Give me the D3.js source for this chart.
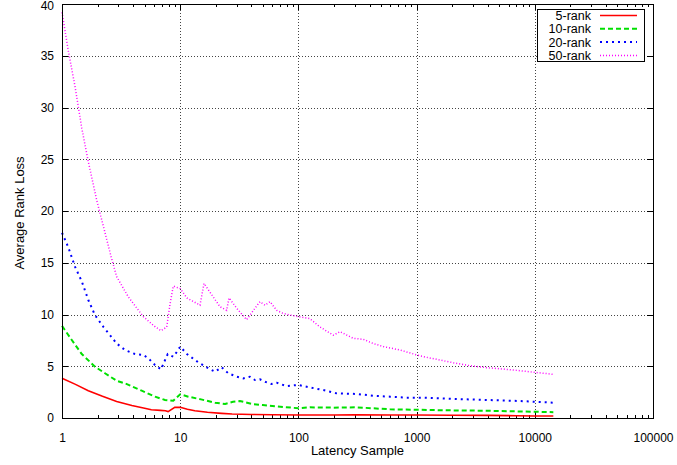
<!DOCTYPE html>
<html>
<head>
<meta charset="utf-8">
<script src="https://cdn.jsdelivr.net/npm/d3@7"></script>
<style>
  html, body { margin: 0; padding: 0; background: #fff; }
  svg { display: block; font-family: "Liberation Sans", Arial, Helvetica, sans-serif; }
</style>
</head>
<body>
<svg id="chart" width="677" height="465"></svg>
<script>
// ---- data ----
const seriesNames = ["5-rank", "10-rank", "20-rank", "50-rank"];

const x5 = [1, 1.3, 1.67, 2.2, 2.9, 3.9, 5, 5.7, 6.8, 7.5, 7.9, 9.0, 10, 11.5, 13.3, 17, 22.4, 27.5, 40, 60, 100, 200, 300, 600, 1000, 2000, 4000, 7000, 10000, 14350];
const y5 = [3.85, 3.25, 2.64, 2.1, 1.6, 1.2, 0.95, 0.8, 0.74, 0.7, 0.62, 1.03, 1.03, 0.85, 0.7, 0.55, 0.45, 0.39, 0.34, 0.31, 0.29, 0.29, 0.3, 0.29, 0.29, 0.27, 0.25, 0.22, 0.2, 0.19];

const x10 = [1, 1.21, 1.47, 1.9, 2.31, 2.9, 3.5, 4.72, 6.12, 7.43, 8.74, 10, 11.7, 15, 19.7, 24, 28, 32, 41, 50, 60, 100, 125, 197, 311, 596, 1000, 1578, 3917, 10040, 14350];
const y10 = [8.9, 7.54, 6.18, 4.96, 4.32, 3.6, 3.3, 2.64, 2.06, 1.74, 1.67, 2.29, 2.06, 1.8, 1.48, 1.35, 1.57, 1.64, 1.35, 1.25, 1.16, 0.94, 1.03, 1.0, 1.03, 0.84, 0.8, 0.75, 0.7, 0.6, 0.56];

const x20 = [1, 1.13, 1.29, 1.47, 1.67, 1.9, 2.24, 2.55, 2.9, 3.41, 4.15, 4.87, 5.37, 6.12, 6.88, 7.84, 8.74, 9.52, 10, 11.4, 14.2, 17.3, 19.7, 22.4, 25.5, 30.1, 34.2, 38.9, 42.9, 47.3, 52.2, 59, 65.5, 79, 99.8, 125, 162, 211, 311, 430, 596, 825, 1140, 1578, 2044, 3917, 7496, 10040, 14350];
const y20 = [17.9, 16.5, 14.6, 13.2, 11.4, 9.95, 8.8, 8.0, 7.2, 6.57, 6.18, 6.1, 5.77, 5.12, 4.7, 6.18, 5.92, 6.5, 6.9, 6.18, 5.38, 4.8, 4.47, 4.9, 4.32, 3.99, 3.83, 3.99, 3.67, 3.74, 3.5, 3.29, 3.41, 3.09, 3.19, 2.96, 2.7, 2.38, 2.32, 2.15, 2.06, 1.96, 1.96, 1.9, 1.84, 1.74, 1.64, 1.57, 1.48];

const x50 = [1, 1.13, 1.29, 1.47, 1.66, 1.97, 2.3, 2.6, 2.9, 3.64, 4.87, 6.0, 6.88, 7.69, 8.2, 8.74, 10, 11.4, 14.7, 15.9, 18.5, 21.7, 24.7, 25.9, 30.1, 36.5, 42.9, 47.3, 52.2, 57.5, 65.5, 74.5, 84.9, 99.8, 125, 152, 197, 225, 291, 354, 430, 523, 724, 1000, 1217, 1479, 2044, 2830, 3917, 5415, 7496, 10040, 14350];
const y50 = [39.2, 35.5, 32, 28, 24.9, 21, 18, 15.6, 13.65, 11.7, 9.8, 8.9, 8.43, 8.8, 11, 12.75, 12.5, 11.6, 10.9, 13.0, 11.9, 10.75, 10.4, 11.6, 10.6, 9.5, 10.6, 11.24, 10.9, 11.24, 10.4, 10.1, 9.95, 9.8, 9.6, 8.8, 8.0, 8.34, 7.7, 7.6, 7.2, 6.9, 6.57, 6.1, 5.86, 5.67, 5.34, 5.05, 4.86, 4.73, 4.57, 4.41, 4.22];

const xTickValues = [1, 10, 100, 1000, 10000, 100000];
const xTickLabels = ["1", "10", "100", "1000", "10000", "100000"];
const yTickValues = [0, 5, 10, 15, 20, 25, 30, 35, 40];

// ---- layout ----
const svg = d3.select("#chart");
const L = 62, R = 653, T = 4, B = 418;

const x = d3.scaleLog().domain([1, 100000]).range([L, R]);
const y = d3.scaleLinear().domain([0, 40]).range([B, T]);

// grid
const grid = svg.append("g");
grid.selectAll("line.gx").data(xTickValues.slice(1, -1)).enter().append("line")
  .attr("x1", d => Math.round(x(d)) + 0.5).attr("x2", d => Math.round(x(d)) + 0.5)
  .attr("y1", T).attr("y2", B)
  .attr("stroke", "#444").attr("stroke-width", 1).attr("stroke-dasharray", "1,2");
grid.selectAll("line.gy").data(yTickValues.slice(1, -1)).enter().append("line")
  .attr("y1", d => Math.round(y(d)) + 0.5).attr("y2", d => Math.round(y(d)) + 0.5)
  .attr("x1", L).attr("x2", R)
  .attr("stroke", "#444").attr("stroke-width", 1).attr("stroke-dasharray", "1,2");

// minor x ticks
const minor = [];
for (let e = 0; e < 5; e++) for (let m = 2; m <= 9; m++) minor.push(m * Math.pow(10, e));

const ticks = svg.append("g").attr("stroke", "#000").attr("stroke-width", 1).attr("shape-rendering", "crispEdges");
minor.forEach(v => {
  const px = Math.round(x(v)) + 0.5;
  ticks.append("line").attr("x1", px).attr("x2", px).attr("y1", B).attr("y2", B - 3);
  ticks.append("line").attr("x1", px).attr("x2", px).attr("y1", T).attr("y2", T + 3);
});
xTickValues.forEach(v => {
  const px = Math.round(x(v)) + 0.5;
  ticks.append("line").attr("x1", px).attr("x2", px).attr("y1", B).attr("y2", B - 6);
  ticks.append("line").attr("x1", px).attr("x2", px).attr("y1", T).attr("y2", T + 6);
});
yTickValues.forEach(v => {
  const py = Math.round(y(v)) + 0.5;
  ticks.append("line").attr("x1", L).attr("x2", L + 6).attr("y1", py).attr("y2", py);
  ticks.append("line").attr("x1", R).attr("x2", R - 6).attr("y1", py).attr("y2", py);
});

// axis labels via d3 axes (no domain lines, no tick lines)
const xAxis = svg.append("g").attr("transform", `translate(0,${B})`)
  .call(d3.axisBottom(x).tickValues(xTickValues).tickFormat((d, i) => xTickLabels[i]).tickSize(0).tickPadding(15));
xAxis.select(".domain").remove();
xAxis.selectAll("text").attr("font-size", 12).attr("font-family", "Liberation Sans, Arial, sans-serif").attr("fill", "#000");

const yAxis = svg.append("g").attr("transform", `translate(${L},0)`)
  .call(d3.axisLeft(y).tickValues(yTickValues).tickFormat(d3.format("d")).tickSize(0).tickPadding(8));
yAxis.select(".domain").remove();
yAxis.selectAll("text").attr("font-size", 12).attr("font-family", "Liberation Sans, Arial, sans-serif").attr("fill", "#000");
// keep the top label ("40") fully inside the canvas
yAxis.selectAll(".tick").filter(d => d === 40).select("text").attr("dy", "0.42em");

// titles
svg.append("text").attr("x", (L + R) / 2).attr("y", 455).attr("text-anchor", "middle")
  .attr("font-size", 13).text("Latency Sample");
svg.append("text").attr("transform", "translate(24,213) rotate(-90)").attr("text-anchor", "middle")
  .attr("font-size", 13).text("Average Rank Loss");

// series
const styles = [
  { color: "#ff0000", dash: null, width: 1.6 },
  { color: "#00e000", dash: "5,3", width: 2 },
  { color: "#0000ff", dash: "2,4", width: 2 },
  { color: "#ff00ff", dash: "1,2", width: 1.5 }
];
const seriesX = [x5, x10, x20, x50];
const seriesY = [y5, y10, y20, y50];

const line = d3.line().x(d => x(d[0])).y(d => y(d[1]));
const plot = svg.append("g");
seriesX.forEach((xs, i) => {
  const pts = xs.map((v, j) => [v, seriesY[i][j]]);
  plot.append("path").datum(pts)
    .attr("d", line).attr("fill", "none")
    .attr("stroke", styles[i].color).attr("stroke-width", styles[i].width)
    .attr("stroke-dasharray", styles[i].dash);
});

// border
svg.append("rect").attr("x", L + 0.5).attr("y", T + 0.5).attr("width", R - L).attr("height", B - T)
  .attr("fill", "none").attr("stroke", "#000").attr("stroke-width", 1).attr("shape-rendering", "crispEdges");

// legend
const lg = svg.append("g");
lg.append("rect").attr("x", 537.5).attr("y", 9.5).attr("width", 107).attr("height", 52)
  .attr("fill", "#fff").attr("stroke", "#000").attr("stroke-width", 1).attr("shape-rendering", "crispEdges");
seriesNames.forEach((name, i) => {
  const ly = 15.5 + i * 13.3;
  lg.append("text").attr("x", 591).attr("y", ly + 4.5).attr("text-anchor", "end")
    .attr("font-size", 12.5).text(name);
  lg.append("line").attr("x1", 600).attr("x2", 637).attr("y1", ly).attr("y2", ly)
    .attr("stroke", styles[i].color).attr("stroke-width", styles[i].width)
    .attr("stroke-dasharray", styles[i].dash);
});
</script>
</body>
</html>
